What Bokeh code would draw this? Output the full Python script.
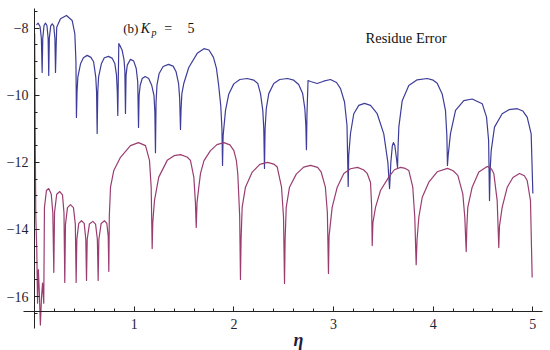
from bokeh.plotting import figure
from bokeh.models import Range1d, FixedTicker, Label
from bokeh.embed import file_html
from bokeh.resources import INLINE

# ---- data (eta, log10 residue error) ----
blue_eta = [
    0.019, 0.035, 0.055, 0.068, 0.076,
    0.082, 0.095, 0.109, 0.124, 0.136, 0.142,
    0.148, 0.162, 0.177, 0.192, 0.204, 0.210,
    0.216, 0.222, 0.26, 0.32, 0.377, 0.404, 0.415, 0.420,
    0.426, 0.434, 0.461, 0.49, 0.528, 0.565, 0.592, 0.614, 0.622, 0.628,
    0.634, 0.642, 0.67, 0.70, 0.742, 0.78, 0.805, 0.822, 0.830, 0.835,
    0.845, 0.862, 0.879, 0.898, 0.906, 0.912,
    0.918, 0.93, 0.962, 0.995, 1.02, 1.035, 1.043,
    1.049, 1.06, 1.08, 1.11, 1.145, 1.175, 1.198, 1.207, 1.213,
    1.219, 1.228, 1.25, 1.29, 1.344, 1.39, 1.42, 1.445, 1.456, 1.464,
    1.470, 1.478, 1.497, 1.547, 1.632, 1.70, 1.75, 1.795, 1.825, 1.845, 1.868, 1.880, 1.886,
    1.892, 1.916, 1.949, 1.999, 2.06, 2.133, 2.20, 2.240, 2.267, 2.290, 2.300, 2.307,
    2.313, 2.325, 2.35, 2.40, 2.46, 2.538, 2.60, 2.65, 2.69, 2.712, 2.722, 2.728,
    2.733, 2.744, 2.769, 2.836, 2.90, 2.969, 3.03, 3.07, 3.11, 3.135, 3.147,
    3.152, 3.17, 3.203, 3.253, 3.31, 3.371, 3.438, 3.504, 3.545, 3.562,
    3.575, 3.59, 3.601, 3.615, 3.632, 3.642,
    3.648, 3.655, 3.689, 3.755, 3.839, 3.94, 4.00, 4.04, 4.09, 4.123, 4.137, 4.143,
    4.150, 4.173, 4.224, 4.307, 4.391, 4.492, 4.535, 4.556, 4.565,
    4.572, 4.582, 4.615, 4.692, 4.76, 4.843, 4.90, 4.943, 4.983, 5.0,
]
blue_err = [
    -7.90, -7.85, -7.95, -8.3, -9.32,
    -8.3, -7.92, -7.85, -7.92, -8.3, -9.41,
    -8.3, -7.93, -7.87, -7.93, -8.3, -9.32,
    -8.6, -7.97, -7.72, -7.62, -7.77, -8.17, -9.0, -10.66,
    -9.9, -9.46, -9.06, -8.88, -8.81, -8.87, -9.0, -9.46, -9.9, -11.14,
    -9.9, -9.46, -9.06, -8.88, -8.84, -8.9, -9.05, -9.4, -9.9, -10.60,
    -8.46, -8.55, -8.66, -8.95, -9.3, -10.54,
    -9.4, -9.1, -8.93, -8.98, -9.2, -9.6, -10.96,
    -10.0, -9.7, -9.5, -9.44, -9.5, -9.7, -10.0, -10.5, -11.71,
    -10.2, -9.7, -9.35, -9.14, -9.08, -9.13, -9.3, -9.65, -10.1, -11.02,
    -10.4, -9.95, -9.65, -9.17, -8.75, -8.61, -8.65, -8.87, -9.2, -9.65, -10.3, -11.0, -12.09,
    -11.2, -10.45, -9.96, -9.66, -9.53, -9.50, -9.55, -9.65, -9.95, -10.45, -11.0, -12.18,
    -11.0, -10.4, -9.95, -9.65, -9.53, -9.50, -9.55, -9.68, -9.95, -10.4, -10.9, -11.62,
    -10.6, -9.56, -9.59, -9.65, -9.58, -9.53, -9.62, -9.80, -10.2, -10.9, -12.72,
    -11.8, -11.14, -10.55, -10.30, -10.24, -10.30, -10.55, -11.15, -12.0, -12.78,
    -12.0, -11.5, -11.41, -11.5, -11.9, -12.15,
    -11.5, -10.95, -10.16, -9.71, -9.54, -9.50, -9.55, -9.64, -9.96, -10.45, -11.2, -12.09,
    -11.8, -11.15, -10.45, -10.16, -10.11, -10.25, -10.65, -11.35, -13.14,
    -12.2, -11.65, -10.95, -10.55, -10.43, -10.40, -10.47, -10.65, -11.15, -12.93,
]
red_eta = [
    0.001, 0.006, 0.012, 0.016, 0.022, 0.030, 0.038, 0.048, 0.058, 0.070, 0.080, 0.092,
    0.099, 0.119, 0.142, 0.167, 0.183, 0.193,
    0.200, 0.222, 0.253, 0.280, 0.295, 0.303,
    0.310, 0.330, 0.360, 0.390, 0.409, 0.417,
    0.424, 0.443, 0.471, 0.498, 0.514, 0.521,
    0.528, 0.55, 0.584, 0.612, 0.630, 0.638,
    0.645, 0.668, 0.701, 0.725, 0.739, 0.745,
    0.750, 0.762, 0.795, 0.862, 0.962, 1.043, 1.113, 1.153, 1.170, 1.180,
    1.186, 1.203, 1.246, 1.331, 1.40, 1.464, 1.53, 1.564, 1.598, 1.614, 1.622,
    1.630, 1.648, 1.665, 1.70, 1.765, 1.83, 1.90, 1.96, 2.0, 2.025, 2.039, 2.058, 2.066,
    2.072, 2.083, 2.116, 2.184, 2.26, 2.337, 2.40, 2.435, 2.478, 2.498, 2.508,
    2.514, 2.525, 2.558, 2.626, 2.70, 2.769, 2.84, 2.875, 2.918, 2.938, 2.949,
    2.955, 2.986, 3.037, 3.103, 3.17, 3.240, 3.30, 3.338, 3.371, 3.382, 3.388,
    3.395, 3.421, 3.471, 3.554, 3.61, 3.672, 3.72, 3.755, 3.795, 3.815, 3.829,
    3.838, 3.856, 3.89, 3.956, 4.04, 4.144, 4.20, 4.247, 4.297, 4.317, 4.331,
    4.338, 4.347, 4.391, 4.458, 4.542, 4.585, 4.608, 4.642, 4.658,
    4.665, 4.692, 4.743, 4.80, 4.866, 4.915, 4.943, 4.976, 4.993,
]
red_err = [
    -8.15, -11.0, -13.6, -14.0, -14.6, -16.2, -15.2, -15.9, -16.85, -16.0, -15.6, -16.2,
    -13.34, -12.84, -12.78, -12.94, -13.5, -15.28,
    -13.5, -12.95, -12.87, -12.97, -13.5, -15.58,
    -13.85, -13.35, -13.26, -13.35, -13.85, -15.58,
    -14.3, -13.82, -13.74, -13.82, -14.3, -15.52,
    -14.3, -13.84, -13.76, -13.84, -14.3, -15.52,
    -14.3, -13.82, -13.74, -13.82, -14.2, -15.25,
    -13.6, -12.74, -12.24, -11.85, -11.50, -11.41, -11.50, -11.94, -12.74, -14.57,
    -13.8, -13.14, -12.44, -11.94, -11.80, -11.77, -11.84, -11.94, -12.44, -13.2, -13.94,
    -13.2, -12.74, -12.33, -11.95, -11.65, -11.47, -11.41, -11.48, -11.65, -11.95, -12.34, -13.6, -15.49,
    -14.3, -13.34, -12.74, -12.29, -12.06, -12.0, -12.05, -12.14, -12.74, -13.63, -15.61,
    -14.3, -13.34, -12.74, -12.35, -12.14, -12.09, -12.15, -12.28, -12.74, -13.5, -15.31,
    -14.2, -13.34, -12.74, -12.33, -12.19, -12.15, -12.22, -12.33, -12.6, -13.3, -14.48,
    -13.8, -13.34, -12.84, -12.44, -12.22, -12.15, -12.18, -12.24, -12.74, -13.63, -15.05,
    -14.3, -13.63, -13.04, -12.59, -12.28, -12.18, -12.25, -12.39, -12.94, -13.63, -14.66,
    -13.9, -13.34, -12.74, -12.29, -12.12, -12.2, -12.33, -13.14, -14.54,
    -13.9, -13.34, -12.74, -12.45, -12.33, -12.4, -12.54, -13.14, -15.43,
]
assert len(blue_eta) == len(blue_err), (len(blue_eta), len(blue_err))
assert len(red_eta) == len(red_err), (len(red_eta), len(red_err))

x_ticks = [1, 2, 3, 4, 5]
x_minor_ticks = [0.2, 0.4, 0.6, 0.8, 1.2, 1.4, 1.6, 1.8, 2.2, 2.4, 2.6, 2.8,
                 3.2, 3.4, 3.6, 3.8, 4.2, 4.4, 4.6, 4.8]
y_ticks = [-16, -14, -12, -10, -8]
y_tick_labels = ["\u221216", "\u221214", "\u221212", "\u221210", "\u22128"]
y_minor_ticks = [-16.5, -15.5, -15, -14.5, -13.5, -13, -12.5, -11.5, -11, -10.5,
                 -9.5, -9, -8.5, -7.5]

SERIF = "Liberation Serif"

p = figure(width=550, height=350,
           x_range=Range1d(-0.342, 5.177), y_range=Range1d(-17.609, -7.174),
           output_backend="svg", toolbar_location=None, min_border=0)
p.xgrid.visible = False
p.ygrid.visible = False
p.outline_line_color = None
p.background_fill_color = "white"

p.line(blue_eta, blue_err, line_color="#3d3d99", line_width=1.2, line_join="round")
p.line(red_eta, red_err, line_color="#993d71", line_width=1.2, line_join="round")

xa = p.xaxis[0]
xa.fixed_location = -16.45
xa.bounds = (-0.11, 5.1)
xa.ticker = FixedTicker(ticks=x_ticks, minor_ticks=x_minor_ticks)
xa.major_tick_in = 5
xa.major_tick_out = 0
xa.minor_tick_in = 3
xa.minor_tick_out = 0
xa.axis_line_color = "#222222"
xa.major_tick_line_color = "#222222"
xa.minor_tick_line_color = "#222222"
xa.major_label_text_font = SERIF
xa.major_label_text_font_size = "14px"
xa.major_label_text_color = "#1e2236"
xa.major_label_standoff = 7

ya = p.yaxis[0]
ya.fixed_location = 0
ya.bounds = (-16.95, -7.41)
ya.ticker = FixedTicker(ticks=y_ticks, minor_ticks=y_minor_ticks)
ya.major_label_overrides = dict(zip(y_ticks, y_tick_labels))
ya.major_tick_in = 5
ya.major_tick_out = 0
ya.minor_tick_in = 3
ya.minor_tick_out = 0
ya.axis_line_color = "#222222"
ya.major_tick_line_color = "#222222"
ya.minor_tick_line_color = "#222222"
ya.major_label_text_font = SERIF
ya.major_label_text_font_size = "14px"
ya.major_label_text_color = "#1e2236"
ya.major_label_standoff = 6

def add_text(x, y, text, size="14px", style="normal", color="#111111", align="left"):
    p.add_layout(Label(x=x, y=y, text=text, text_font=SERIF, text_font_size=size,
                       text_font_style=style, text_color=color, text_align=align,
                       text_baseline="alphabetic"))

add_text(0.890, -8.0, "(b)", size="13px")
add_text(1.065, -8.0, "K", style="italic")
add_text(1.172, -8.13, "p", size="10px", style="italic")
add_text(1.300, -8.0, "=")
add_text(1.535, -8.0, "5")
add_text(3.321, -8.29, "Residue Error", size="14.5px")
add_text(2.648, -17.30, "\u03b7", size="18px", style="bold italic", color="#1c1c3c", align="center")

open("out.html", "w").write(file_html(p, INLINE))
